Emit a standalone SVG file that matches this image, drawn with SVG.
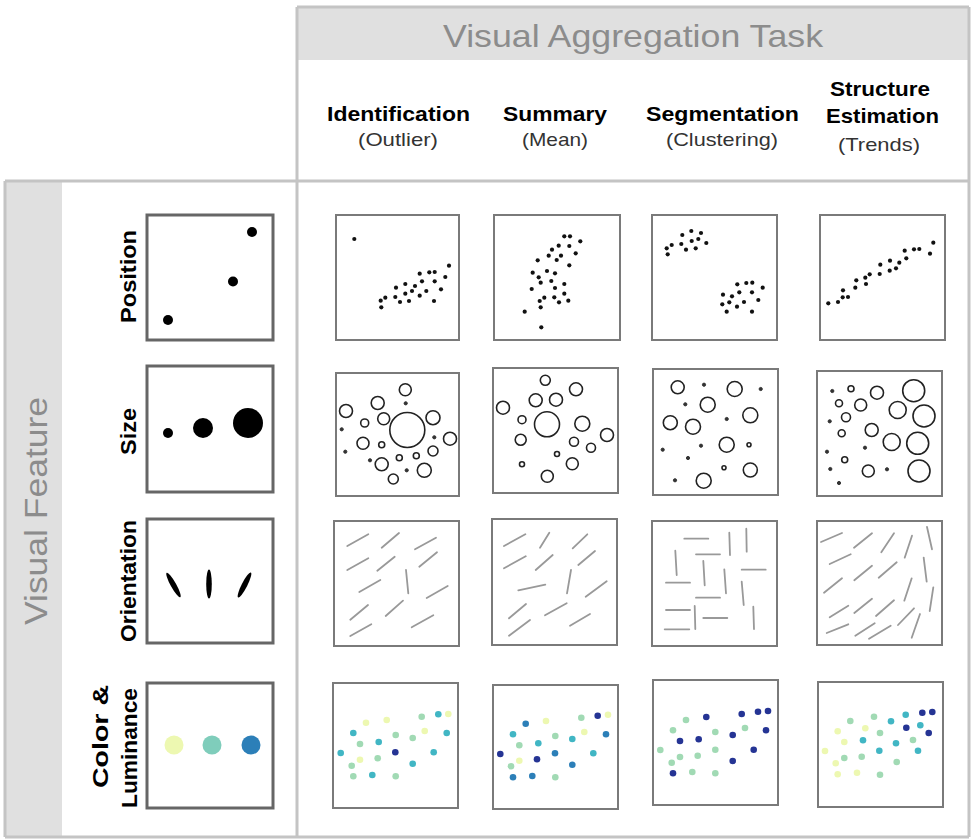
<svg xmlns="http://www.w3.org/2000/svg" width="972" height="840" viewBox="0 0 972 840">
<style>
.band{fill:#e0e0e0}
.frame{fill:none;stroke:#c4c4c4;stroke-width:3}
.fbox{fill:#fff;stroke:#666;stroke-width:3}
.box{fill:#fff;stroke:#7a7a7a;stroke-width:2}
.big{font-family:"Liberation Sans",Arial,sans-serif;font-size:32px;fill:#8c8c8c}
.h{font-family:"Liberation Sans",Arial,sans-serif;font-weight:bold;font-size:21px;fill:#000;text-anchor:middle}
.sub{font-family:"Liberation Sans",Arial,sans-serif;font-size:19px;fill:#333;text-anchor:middle}
.fl{font-family:"Liberation Sans",Arial,sans-serif;font-weight:bold;font-size:22px;fill:#000;text-anchor:middle}
.d circle{fill:#111;r:2.1px}
.c circle{fill:none;stroke:#222;stroke-width:1.6}
.c circle.t{fill:#333;stroke:#333;stroke-width:1;r:1.6px}
.o line{stroke:#999;stroke-width:1.8;stroke-linecap:round}
.k circle{r:3.3px}
.Y{fill:#edf8b1}.G{fill:#a1dab4}.C{fill:#41b6c4}.B{fill:#2c7fb8}.N{fill:#253494}
</style>

<g id="frame">
<rect class="band" x="297" y="7" width="672" height="53"/>
<rect class="band" x="5" y="181" width="57" height="656"/>
<line class="frame" x1="297" y1="7" x2="969" y2="7"/>
<line class="frame" x1="297" y1="7" x2="297" y2="837"/>
<line class="frame" x1="969" y1="7" x2="969" y2="837"/>
<line class="frame" x1="5" y1="181" x2="969" y2="181"/>
<line class="frame" x1="5" y1="181" x2="5" y2="837"/>
<line class="frame" x1="5" y1="837" x2="969" y2="837"/>
</g>

<g id="header-titles">
<text class="big" x="633" y="47" text-anchor="middle" textLength="380" lengthAdjust="spacingAndGlyphs">Visual Aggregation Task</text>
<text class="big" transform="translate(47,511) rotate(-90)" text-anchor="middle" font-size="35" textLength="228" lengthAdjust="spacingAndGlyphs">Visual Feature</text>
</g>

<g id="col-identification">
<text class="h" x="398.5" y="121" textLength="143" lengthAdjust="spacingAndGlyphs">Identification</text>
<text class="sub" x="398" y="146" textLength="80" lengthAdjust="spacingAndGlyphs">(Outlier)</text>
</g>
<g id="col-summary">
<text class="h" x="555" y="121" textLength="104" lengthAdjust="spacingAndGlyphs">Summary</text>
<text class="sub" x="555" y="146" textLength="66" lengthAdjust="spacingAndGlyphs">(Mean)</text>
</g>
<g id="col-segmentation">
<text class="h" x="722.5" y="121" textLength="153" lengthAdjust="spacingAndGlyphs">Segmentation</text>
<text class="sub" x="722" y="146" textLength="112" lengthAdjust="spacingAndGlyphs">(Clustering)</text>
</g>
<g id="col-structure">
<text class="h" x="880" y="96" textLength="100" lengthAdjust="spacingAndGlyphs">Structure</text>
<text class="h" x="882.5" y="123" textLength="113" lengthAdjust="spacingAndGlyphs">Estimation</text>
<text class="sub" x="879" y="151" textLength="82" lengthAdjust="spacingAndGlyphs">(Trends)</text>
</g>

<g id="feature-position">
<text class="fl" transform="translate(136,276.5) rotate(-90)" textLength="93" lengthAdjust="spacingAndGlyphs">Position</text>
<rect class="fbox" x="147" y="215" width="126" height="125"/>
<circle cx="168" cy="320" r="5"/><circle cx="233" cy="281.5" r="5"/><circle cx="252" cy="232" r="5"/>
</g>
<g id="feature-size">
<text class="fl" transform="translate(136,431.5) rotate(-90)" textLength="47" lengthAdjust="spacingAndGlyphs">Size</text>
<rect class="fbox" x="147" y="366" width="126" height="126"/>
<circle cx="168" cy="433" r="5"/><circle cx="203" cy="428" r="10"/><circle cx="248" cy="423" r="15"/>
</g>
<g id="feature-orientation">
<text class="fl" transform="translate(136,581) rotate(-90)" textLength="122" lengthAdjust="spacingAndGlyphs">Orientation</text>
<rect class="fbox" x="147" y="519" width="126" height="124"/>
<ellipse cx="173.5" cy="585" rx="2.8" ry="14" transform="rotate(-29 173.5 585)"/>
<ellipse cx="209" cy="584" rx="2.8" ry="14.5"/>
<ellipse cx="244.5" cy="585" rx="2.8" ry="14" transform="rotate(27 244.5 585)"/>
</g>
<g id="feature-color">
<text class="fl" transform="translate(108,736.5) rotate(-90)" textLength="103" lengthAdjust="spacingAndGlyphs">Color &amp;</text>
<text class="fl" transform="translate(137,748) rotate(-90)" textLength="120" lengthAdjust="spacingAndGlyphs">Luminance</text>
<rect class="fbox" x="147" y="683" width="126" height="125"/>
<circle cx="174" cy="745" r="9.5" fill="#edf8b1"/><circle cx="212" cy="745" r="9.5" fill="#7fcdbb"/><circle cx="251" cy="745" r="9.5" fill="#2c7fb8"/>
</g>

<!-- Row 1: position -->
<g id="pos-identification" class="d">
<rect class="box" x="336" y="215" width="123" height="125"/>
<circle cx="354.3" cy="239"/><circle cx="449" cy="265.7"/><circle cx="419.7" cy="273.7"/><circle cx="429.3" cy="272.3"/><circle cx="434.7" cy="272"/><circle cx="445.3" cy="277"/><circle cx="422" cy="281.3"/><circle cx="434.7" cy="281.3"/><circle cx="405.3" cy="284"/><circle cx="415" cy="286"/><circle cx="396" cy="287.7"/><circle cx="412" cy="291"/><circle cx="426.3" cy="291"/><circle cx="441" cy="289.3"/><circle cx="405.3" cy="293.7"/><circle cx="419.7" cy="295.7"/><circle cx="385.3" cy="297.7"/><circle cx="395.3" cy="297"/><circle cx="380.7" cy="300.7"/><circle cx="400" cy="302"/><circle cx="409" cy="301"/><circle cx="434" cy="301"/><circle cx="381.3" cy="307.3"/>
</g>
<g id="pos-summary" class="d">
<rect class="box" x="494" y="215" width="126" height="125"/>
<circle cx="564.3" cy="236.3"/><circle cx="570" cy="236.3"/><circle cx="580.3" cy="241.3"/><circle cx="558.7" cy="245.7"/><circle cx="569.3" cy="246"/><circle cx="552" cy="249.7"/><circle cx="575.7" cy="253.3"/><circle cx="548.7" cy="255.7"/><circle cx="561" cy="255.7"/><circle cx="537.7" cy="260.3"/><circle cx="556.7" cy="260"/><circle cx="569.3" cy="265.3"/><circle cx="547" cy="271"/><circle cx="532.7" cy="272.7"/><circle cx="555" cy="273.3"/><circle cx="538.7" cy="277.3"/><circle cx="551.3" cy="281"/><circle cx="540.7" cy="282.7"/><circle cx="564.3" cy="284"/><circle cx="531.7" cy="289"/><circle cx="555" cy="288"/><circle cx="564.3" cy="293.7"/><circle cx="544.3" cy="297.7"/><circle cx="554.3" cy="297.3"/><circle cx="539.7" cy="301"/><circle cx="559" cy="302.3"/><circle cx="568.3" cy="300.7"/><circle cx="524.7" cy="311.7"/><circle cx="540.7" cy="307.3"/><circle cx="541.3" cy="327.3"/>
</g>
<g id="pos-segmentation" class="d">
<rect class="box" x="652" y="215" width="125" height="125"/>
<circle cx="691.3" cy="231"/><circle cx="682.3" cy="235"/><circle cx="701" cy="233"/><circle cx="691.7" cy="241"/><circle cx="698.3" cy="239"/><circle cx="671.7" cy="245"/><circle cx="681.3" cy="244"/><circle cx="706.3" cy="243"/><circle cx="666.7" cy="248.3"/><circle cx="686" cy="249.7"/><circle cx="695.7" cy="248.3"/><circle cx="667.7" cy="254.3"/><circle cx="737.3" cy="284.3"/><circle cx="746.3" cy="283"/><circle cx="752.3" cy="282.7"/><circle cx="762.7" cy="287.7"/><circle cx="723" cy="294.7"/><circle cx="732" cy="296.3"/><circle cx="739.3" cy="292.3"/><circle cx="752" cy="292.3"/><circle cx="758.3" cy="300"/><circle cx="729.3" cy="302.3"/><circle cx="744" cy="302"/><circle cx="722.3" cy="304.3"/><circle cx="737" cy="306.7"/><circle cx="726.7" cy="311.7"/><circle cx="752" cy="311.7"/>
</g>
<g id="pos-structure" class="d">
<rect class="box" x="820" y="215" width="125" height="125"/>
<circle cx="933.3" cy="242.7"/><circle cx="930" cy="253.7"/><circle cx="904.7" cy="250.7"/><circle cx="914" cy="249.3"/><circle cx="919.3" cy="249"/><circle cx="906.3" cy="258.3"/><circle cx="899.3" cy="262.7"/><circle cx="890" cy="260.7"/><circle cx="880.3" cy="264.7"/><circle cx="896" cy="268.3"/><circle cx="889.7" cy="270.7"/><circle cx="879.7" cy="274"/><circle cx="869.7" cy="274.3"/><circle cx="865.3" cy="277.7"/><circle cx="856.3" cy="280.3"/><circle cx="866" cy="284"/><circle cx="855.3" cy="287.7"/><circle cx="843" cy="290.3"/><circle cx="842.7" cy="297.3"/><circle cx="848" cy="297"/><circle cx="828.3" cy="303.3"/><circle cx="838" cy="302"/>
</g>

<!-- Row 2: size -->
<g id="size-identification" class="c">
<rect class="box" x="336" y="373" width="123" height="123"/>
<circle cx="405.3" cy="389.7" r="6"/><circle class="t" cx="405.7" cy="403.3"/><circle cx="377.7" cy="403" r="6.5"/><circle cx="346" cy="411" r="6.5"/><circle cx="433" cy="417.7" r="7"/><circle cx="383.7" cy="418.7" r="6"/><circle cx="364.7" cy="423" r="4"/><circle cx="407.3" cy="430" r="17.5"/><circle class="t" cx="341.7" cy="429.3"/><circle class="t" cx="434.3" cy="437.3"/><circle cx="450" cy="438.7" r="6.5"/><circle cx="363" cy="443.3" r="6"/><circle cx="381.7" cy="444.7" r="3"/><circle cx="433" cy="451" r="5"/><circle class="t" cx="345.3" cy="451.7"/><circle cx="416.3" cy="455.7" r="3"/><circle cx="399.3" cy="457.7" r="3"/><circle class="t" cx="370" cy="460.3"/><circle cx="381.7" cy="464.3" r="6.5"/><circle class="t" cx="406.7" cy="470.3"/><circle cx="424.3" cy="470.3" r="7"/><circle cx="393.3" cy="479" r="5"/>
</g>
<g id="size-summary" class="c">
<rect class="box" x="493" y="368" width="125" height="125"/>
<circle cx="545.3" cy="380.3" r="5"/><circle cx="576" cy="389.3" r="6.5"/><circle cx="535.7" cy="400.3" r="6.5"/><circle cx="556" cy="399.7" r="6.5"/><circle cx="503" cy="407.7" r="6.5"/><circle cx="522" cy="419.7" r="4"/><circle cx="547" cy="424.3" r="12.5"/><circle cx="582.3" cy="423.7" r="7.5"/><circle cx="607" cy="435" r="6.5"/><circle cx="520.7" cy="439.7" r="5.5"/><circle cx="574" cy="441.7" r="4.5"/><circle cx="591" cy="447.7" r="4.5"/><circle cx="557" cy="454" r="2.5"/><circle cx="572.3" cy="463.7" r="6"/><circle cx="522" cy="464.3" r="2.5"/><circle cx="547.3" cy="476.3" r="6"/>
</g>
<g id="size-segmentation" class="c">
<rect class="box" x="653" y="369" width="125" height="126"/>
<circle cx="677.7" cy="387.3" r="6.5"/><circle class="t" cx="704" cy="384.7"/><circle cx="734.7" cy="389" r="7.5"/><circle class="t" cx="760.7" cy="389"/><circle class="t" cx="685.3" cy="404.3"/><circle cx="707.7" cy="404.7" r="7.5"/><circle cx="750.3" cy="415.3" r="7.5"/><circle cx="670.3" cy="422.7" r="7"/><circle cx="693" cy="426.7" r="7.5"/><circle class="t" cx="726.7" cy="419"/><circle class="t" cx="662.7" cy="449.7"/><circle class="t" cx="701" cy="445.7"/><circle cx="726.7" cy="444.7" r="7.5"/><circle cx="749" cy="444.7" r="2"/><circle class="t" cx="688" cy="458"/><circle cx="724" cy="467.7" r="2"/><circle cx="750.3" cy="470" r="7"/><circle class="t" cx="675" cy="480.3"/><circle cx="703.7" cy="480.7" r="7.5"/>
</g>
<g id="size-structure" class="c">
<rect class="box" x="817" y="371" width="125" height="125"/>
<circle class="t" cx="832.3" cy="391"/><circle cx="851" cy="388.7" r="3"/><circle cx="877" cy="392.7" r="6.5"/><circle cx="913.7" cy="390.7" r="11"/><circle cx="839" cy="403.3" r="3.5"/><circle cx="860.7" cy="405" r="6"/><circle cx="897.7" cy="410" r="8.5"/><circle cx="924" cy="416" r="11"/><circle class="t" cx="829.7" cy="421.3"/><circle cx="846" cy="417.3" r="4.5"/><circle cx="871.7" cy="430" r="6.5"/><circle cx="841.7" cy="433.3" r="3.5"/><circle cx="891.7" cy="442" r="8.5"/><circle cx="917.7" cy="443.3" r="11"/><circle class="t" cx="865" cy="447.7"/><circle class="t" cx="827" cy="451.7"/><circle cx="844.7" cy="459.7" r="3"/><circle class="t" cx="830.3" cy="469"/><circle cx="868.3" cy="471" r="6"/><circle class="t" cx="887" cy="469.3"/><circle cx="919" cy="471" r="11"/><circle class="t" cx="839" cy="483"/>
</g>

<!-- Row 3: orientation -->
<g id="ori-identification" class="o">
<rect class="box" x="334" y="521" width="125" height="125"/>
<line x1="347.3" y1="546" x2="368.3" y2="534.3"/><line x1="381.7" y1="547.7" x2="399" y2="533"/><line x1="415" y1="549.3" x2="436" y2="537.7"/><line x1="347.3" y1="570" x2="368.3" y2="558.3"/><line x1="377.3" y1="570.7" x2="394.7" y2="556.7"/><line x1="419.3" y1="566.7" x2="437" y2="552.3"/><line x1="406" y1="570" x2="408.3" y2="593.3"/><line x1="359.3" y1="592" x2="380.3" y2="580"/><line x1="426.7" y1="598" x2="447.7" y2="586"/><line x1="350.3" y1="619.7" x2="368" y2="605"/><line x1="385.7" y1="616" x2="403" y2="600.7"/><line x1="411.7" y1="627.3" x2="433.3" y2="615.3"/><line x1="350.3" y1="636" x2="371.3" y2="624.3"/>
</g>
<g id="ori-summary" class="o">
<rect class="box" x="492" y="519" width="125" height="126"/>
<line x1="504" y1="546" x2="525.3" y2="534.3"/><line x1="540" y1="547.7" x2="549.3" y2="532.7"/><line x1="572.7" y1="548.3" x2="587.3" y2="534.3"/><line x1="504" y1="568.3" x2="525.7" y2="556.3"/><line x1="535.7" y1="570" x2="552.7" y2="555"/><line x1="578.3" y1="565" x2="595" y2="551"/><line x1="518.3" y1="590.3" x2="545.3" y2="584.7"/><line x1="571" y1="570" x2="567" y2="593.3"/><line x1="585.7" y1="596.7" x2="606.7" y2="581.3"/><line x1="509" y1="618.3" x2="526" y2="604"/><line x1="545" y1="615.3" x2="566.7" y2="603.3"/><line x1="570" y1="625.7" x2="590" y2="614"/><line x1="509" y1="635.7" x2="530" y2="620"/>
</g>
<g id="ori-segmentation" class="o">
<rect class="box" x="652" y="521" width="125" height="125"/>
<line x1="684.3" y1="538.7" x2="708.3" y2="538.7"/><line x1="729.3" y1="532.7" x2="730" y2="555"/><line x1="746.3" y1="528.7" x2="746.7" y2="551.7"/><line x1="675.3" y1="550.7" x2="676.7" y2="575"/><line x1="696" y1="554.3" x2="720" y2="554.3"/><line x1="703.3" y1="561" x2="704.7" y2="585.3"/><line x1="724.3" y1="569.3" x2="726" y2="593.3"/><line x1="741.7" y1="569.7" x2="765.7" y2="569.7"/><line x1="666" y1="582.7" x2="690" y2="582.7"/><line x1="741.7" y1="581.7" x2="743.7" y2="605"/><line x1="696" y1="597.7" x2="720" y2="597.7"/><line x1="666" y1="610" x2="690" y2="610"/><line x1="694.7" y1="606" x2="695.3" y2="629"/><line x1="703.3" y1="618" x2="727.3" y2="618"/><line x1="753.3" y1="606.7" x2="754" y2="629"/><line x1="664.7" y1="629.3" x2="689.3" y2="629.3"/>
</g>
<g id="ori-structure" class="o">
<rect class="box" x="817" y="521" width="125" height="124"/>
<line x1="821" y1="542" x2="842" y2="533"/><line x1="854" y1="547.7" x2="872" y2="533.3"/><line x1="881.3" y1="552.3" x2="894" y2="533.3"/><line x1="904.7" y1="557.7" x2="912" y2="535.7"/><line x1="927" y1="527" x2="932" y2="549.3"/><line x1="829.7" y1="564" x2="850.7" y2="554.3"/><line x1="854.3" y1="580.3" x2="872" y2="565.7"/><line x1="878.7" y1="577.7" x2="896.7" y2="562.3"/><line x1="923.7" y1="557.7" x2="926.7" y2="581.7"/><line x1="824" y1="592.7" x2="842" y2="578.3"/><line x1="904.3" y1="600.7" x2="911.7" y2="578.3"/><line x1="929.7" y1="611" x2="933.3" y2="587.3"/><line x1="829.7" y1="617.3" x2="848.3" y2="605.7"/><line x1="854.3" y1="613" x2="872" y2="598.7"/><line x1="876" y1="616" x2="894" y2="600.3"/><line x1="898" y1="625" x2="914" y2="608.3"/><line x1="826.7" y1="633" x2="848.3" y2="624.3"/><line x1="855.3" y1="635.7" x2="874.7" y2="623.3"/><line x1="869" y1="638.7" x2="890.7" y2="625.7"/><line x1="911.7" y1="637.7" x2="920" y2="614"/>
</g>

<!-- Row 4: color -->
<g id="col-identification-chart" class="k">
<rect class="box" x="333" y="683" width="125" height="125"/>
<circle class="Y" cx="366" cy="722.7"/><circle class="Y" cx="386.7" cy="720"/><circle class="G" cx="421.7" cy="716.7"/><circle class="C" cx="438.3" cy="714.3"/><circle class="Y" cx="448.3" cy="714"/><circle class="C" cx="353.3" cy="733"/><circle class="G" cx="395.7" cy="735"/><circle class="G" cx="412.7" cy="738"/><circle class="Y" cx="424.7" cy="731"/><circle class="C" cx="446.7" cy="733"/><circle class="G" cx="360" cy="744"/><circle class="C" cx="378.7" cy="742"/><circle class="C" cx="340.7" cy="753"/><circle class="N" cx="395.3" cy="752.3"/><circle class="C" cx="433.7" cy="752.3"/><circle class="Y" cx="360" cy="759.7"/><circle class="G" cx="377.7" cy="758.3"/><circle class="G" cx="351.7" cy="765.7"/><circle class="C" cx="412.7" cy="763.7"/><circle class="G" cx="353.3" cy="776.3"/><circle class="C" cx="372.3" cy="775"/><circle class="G" cx="395.7" cy="776.3"/>
</g>
<g id="col-summary-chart" class="k">
<rect class="box" x="493" y="685" width="125" height="124"/>
<circle class="B" cx="525.7" cy="723.7"/><circle class="Y" cx="546" cy="721"/><circle class="G" cx="581.3" cy="717.7"/><circle class="N" cx="597.7" cy="715.7"/><circle class="Y" cx="608" cy="714.7"/><circle class="C" cx="513" cy="734.3"/><circle class="G" cx="555.3" cy="736"/><circle class="C" cx="572.3" cy="739"/><circle class="Y" cx="584.3" cy="732"/><circle class="B" cx="606" cy="734.3"/><circle class="G" cx="519.3" cy="745.3"/><circle class="C" cx="538.3" cy="743.3"/><circle class="N" cx="500.3" cy="754"/><circle class="B" cx="555" cy="753.3"/><circle class="C" cx="593.3" cy="753.3"/><circle class="Y" cx="519.3" cy="760.7"/><circle class="N" cx="537" cy="759.3"/><circle class="G" cx="511" cy="766.3"/><circle class="B" cx="572.3" cy="764.7"/><circle class="B" cx="513" cy="777.3"/><circle class="B" cx="532.3" cy="776"/><circle class="G" cx="555.3" cy="777.3"/>
</g>
<g id="col-segmentation-chart" class="k">
<rect class="box" x="653" y="680" width="125" height="125"/>
<circle class="G" cx="686" cy="720"/><circle class="N" cx="706.3" cy="717"/><circle class="N" cx="741.7" cy="714"/><circle class="N" cx="758" cy="711.7"/><circle class="N" cx="768" cy="711"/><circle class="G" cx="673" cy="730.3"/><circle class="G" cx="715.3" cy="732"/><circle class="N" cx="732.7" cy="735"/><circle class="G" cx="745" cy="728"/><circle class="N" cx="766" cy="730.3"/><circle class="N" cx="680" cy="741"/><circle class="N" cx="698.7" cy="739.3"/><circle class="G" cx="660.3" cy="750"/><circle class="G" cx="715.3" cy="749.7"/><circle class="N" cx="753.7" cy="749.7"/><circle class="G" cx="680" cy="757"/><circle class="G" cx="697.7" cy="755.7"/><circle class="G" cx="671.7" cy="762.7"/><circle class="N" cx="732.7" cy="761"/><circle class="N" cx="673" cy="773.3"/><circle class="G" cx="692.3" cy="772"/><circle class="G" cx="715.3" cy="773.3"/>
</g>
<g id="col-structure-chart" class="k">
<rect class="box" x="818" y="682" width="125" height="125"/>
<circle class="G" cx="850.3" cy="721"/><circle class="G" cx="874" cy="716.7"/><circle class="C" cx="891" cy="721.3"/><circle class="C" cx="905.7" cy="714.7"/><circle class="N" cx="922.3" cy="712.7"/><circle class="N" cx="932.3" cy="712"/><circle class="Y" cx="837.7" cy="731.3"/><circle class="Y" cx="865.3" cy="728.3"/><circle class="G" cx="880" cy="733"/><circle class="N" cx="906.3" cy="727.7"/><circle class="C" cx="920.3" cy="725.3"/><circle class="N" cx="928.7" cy="733"/><circle class="Y" cx="844.3" cy="742"/><circle class="C" cx="863" cy="740.3"/><circle class="C" cx="896" cy="743.3"/><circle class="G" cx="913" cy="740"/><circle class="Y" cx="825" cy="751"/><circle class="C" cx="879.3" cy="750.7"/><circle class="C" cx="918" cy="750.7"/><circle class="G" cx="844.3" cy="758"/><circle class="G" cx="861.7" cy="756.7"/><circle class="Y" cx="835.7" cy="763.3"/><circle class="G" cx="896.7" cy="762"/><circle class="Y" cx="837.7" cy="774.3"/><circle class="Y" cx="857" cy="772.7"/><circle class="G" cx="880" cy="774.7"/>
</g>
</svg>
